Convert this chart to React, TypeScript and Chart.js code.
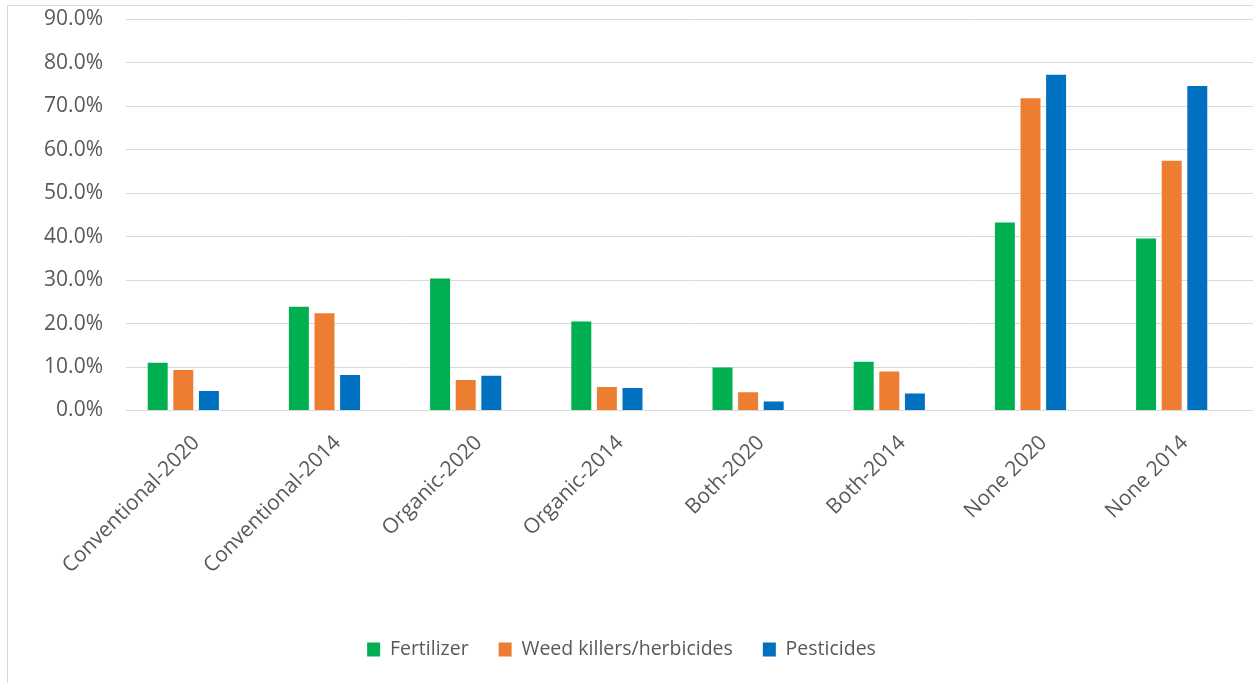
import React, { useEffect, useRef } from "react";
import { Chart, registerables } from "chart.js";

Chart.register(...registerables);

const categories = [
  "Conventional-2020",
  "Conventional-2014",
  "Organic-2020",
  "Organic-2014",
  "Both-2020",
  "Both-2014",
  "None 2020",
  "None 2014",
];
const fertilizer = [11.0, 23.9, 30.4, 20.5, 9.9, 11.2, 43.3, 39.6];
const weedKillers = [9.3, 22.4, 7.0, 5.4, 4.2, 9.0, 71.9, 57.5];
const pesticides = [4.5, 8.2, 8.0, 5.2, 2.1, 3.9, 77.3, 74.7];
const seriesNames = ["Fertilizer", "Weed killers/herbicides", "Pesticides"];
const yTicks = [0, 10, 20, 30, 40, 50, 60, 70, 80, 90];

const COLORS = ["#00B050", "#ED7D31", "#0070C0"];
const TEXT = "#595959";
const GRID = "#d9d9d9";
const FONT = "'Open Sans'";

const legendShift = {
  id: "legendShift",
  afterLayout(chart: any) {
    const lg = chart.legend;
    if (lg) {
      lg.left -= 5;
      lg.right -= 5;
    }
  },
};

export default function App() {
  const ref = useRef<HTMLCanvasElement | null>(null);

  useEffect(() => {
    if (!ref.current) return;
    const seriesData = [fertilizer, weedKillers, pesticides];
    const chart = new Chart(ref.current, {
      type: "bar",
      data: {
        datasets: seriesData.map((d, i) => ({
          label: seriesNames[i],
          data: d.map((v, k) => ({ x: k, y: v })),
          backgroundColor: COLORS[i],
          borderWidth: 0,
          categoryPercentage: 0.544,
          barPercentage: 0.78,
        })),
      },
      plugins: [legendShift],
      options: {
        animation: false,
        responsive: false,
        maintainAspectRatio: false,
        layout: { padding: { top: 19.5, left: 0, right: 0, bottom: 13.75 } },
        font: { family: FONT, size: 21 },
        plugins: {
          tooltip: { enabled: false },
          legend: {
            position: "bottom",
            labels: {
              boxWidth: 13,
              boxHeight: 14,
              padding: 30,
              color: TEXT,
              font: { family: FONT, size: 19.5 },
            },
          },
        },
        scales: {
          x: {
            type: "linear",
            min: -0.4058,
            max: 7.5758,
            offset: false,
            afterBuildTicks: (scale: any) => {
              scale.ticks = categories.map((_, i) => ({ value: i }));
            },
            grid: { display: false, drawTicks: false },
            border: { display: true, color: GRID, width: 1 },
            ticks: {
              color: TEXT,
              font: { family: FONT, size: 21 },
              minRotation: 45,
              maxRotation: 45,
              autoSkip: false,
              padding: 20,
              labelOffset: 13,
              callback: (v: any) => categories[Math.round(Number(v))] ?? "",
            },
            afterFit: (scale: any) => {
              scale.height = 199.25;
            },
          },
          y: {
            min: 0,
            max: 90,
            afterBuildTicks: (scale: any) => {
              scale.ticks = yTicks.map((v) => ({ value: v }));
            },
            grid: {
              color: GRID,
              lineWidth: 1,
              drawTicks: true,
              tickLength: 23,
              tickColor: "rgba(0,0,0,0)",
            },
            border: { display: false },
            ticks: {
              color: TEXT,
              font: { family: FONT, size: 21 },
              padding: 0,
              callback: (v: any) => Number(v).toFixed(1) + "%",
            },
            afterFit: (scale: any) => {
              scale.width = 126;
            },
          },
        },
      },
    });
    return () => chart.destroy();
  }, []);

  return (
    <div style={{ position: "absolute", left: 0, top: 0, width: 1253, height: 683, overflow: "hidden", background: "#fff" }}>
      <div
        style={{
          position: "absolute",
          left: 7,
          top: 5,
          width: 1300,
          height: 700,
          borderTop: "1.5px solid #d9d9d9",
          borderLeft: "1.5px solid #d9d9d9",
        }}
      />
      <canvas ref={ref} width={1253} height={683} style={{ position: "absolute", left: 0, top: 0 }} />
    </div>
  );
}
